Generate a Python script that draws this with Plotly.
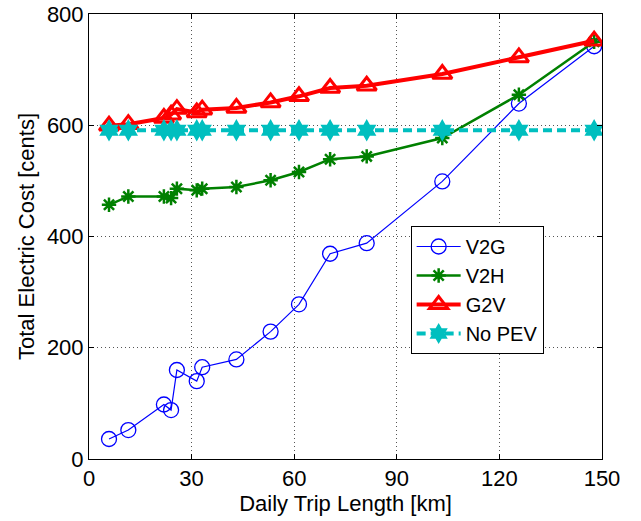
import plotly.graph_objects as go

trip_km = [5.85, 11.5, 21.9, 24.0, 25.7, 31.5, 33.1, 43.1, 53.1, 61.4, 70.5, 81.2, 103.3, 125.7, 147.7]
v2g = [36, 52, 98, 88, 160, 140, 165, 179, 229, 278, 369, 388, 499, 639, 742]
v2h = [457, 472, 472, 469, 486, 483, 486, 489, 501, 516, 539, 544, 577, 655, 750]
g2v = [599, 602, 613, 619, 629, 623, 628, 631, 641, 652, 667, 671, 692, 722, 752]
no_pev = [591] * len(trip_km)

x_ticks = [0, 30, 60, 90, 120, 150]
y_ticks = [0, 200, 400, 600, 800]

FONT = "Liberation Sans, Arial, Helvetica, sans-serif"
FS = 22

fig = go.Figure()
fig.add_trace(go.Scatter(
    x=trip_km, y=v2g, name="V2G", mode="lines+markers",
    line=dict(color="#0000ff", width=1.2),
    marker=dict(symbol="circle-open", size=15, color="#0000ff", line=dict(width=1.3, color="#0000ff")),
))
fig.add_trace(go.Scatter(
    x=trip_km, y=v2h, name="V2H", mode="lines+markers",
    line=dict(color="#008000", width=2.5),
    marker=dict(symbol="asterisk-open", size=12, color="#008000", line=dict(width=2.5, color="#008000")),
))
fig.add_trace(go.Scatter(
    x=trip_km, y=g2v, name="G2V", mode="lines+markers",
    line=dict(color="#ff0000", width=4),
    marker=dict(symbol="triangle-up-open", size=17, color="#ff0000", line=dict(width=3, color="#ff0000")),
))
fig.add_trace(go.Scatter(
    x=trip_km, y=no_pev, name="No PEV", mode="lines+markers",
    line=dict(color="#00bfbf", width=4, dash="9px,5px"),
    marker=dict(symbol="hexagram", size=17, color="#00bfbf", line=dict(width=0)),
))

axis_common = dict(
    showline=True, linecolor="black", linewidth=1, mirror="ticks",
    ticks="inside", ticklen=5, tickcolor="black",
    showgrid=True, gridcolor="#555555", griddash="1px,3px", gridwidth=1,
    zeroline=False, automargin=False,
    tickfont=dict(family=FONT, size=FS, color="black"),
)

fig.update_xaxes(range=[0, 150], tickvals=x_ticks, ticktext=[str(v) for v in x_ticks],
                 title=dict(text="Daily Trip Length [km]", font=dict(family=FONT, size=FS, color="black"), standoff=0),
                 **axis_common)
fig.update_yaxes(range=[0, 800], tickvals=y_ticks, ticktext=[str(v) for v in y_ticks],
                 title=dict(text="Total Electric Cost [cents]", font=dict(family=FONT, size=FS, color="black"), standoff=6),
                 **axis_common)

fig.update_layout(
    width=641, height=521,
    margin=dict(l=89, r=39, t=14, b=62, autoexpand=False),
    paper_bgcolor="white", plot_bgcolor="white",
    font=dict(family=FONT, size=FS, color="black"),
    legend=dict(x=0.627, y=0.5236, xanchor="left", yanchor="top",
                bordercolor="black", borderwidth=1, bgcolor="white",
                font=dict(family=FONT, size=20, color="black"),
                itemwidth=44, tracegroupgap=0),
    showlegend=True,
)

# remove the browser's default 8px body margin so the figure sits at the page origin
fig.write_html("out.html", config={"displayModeBar": False},
               post_script="document.body.style.margin='0';")
